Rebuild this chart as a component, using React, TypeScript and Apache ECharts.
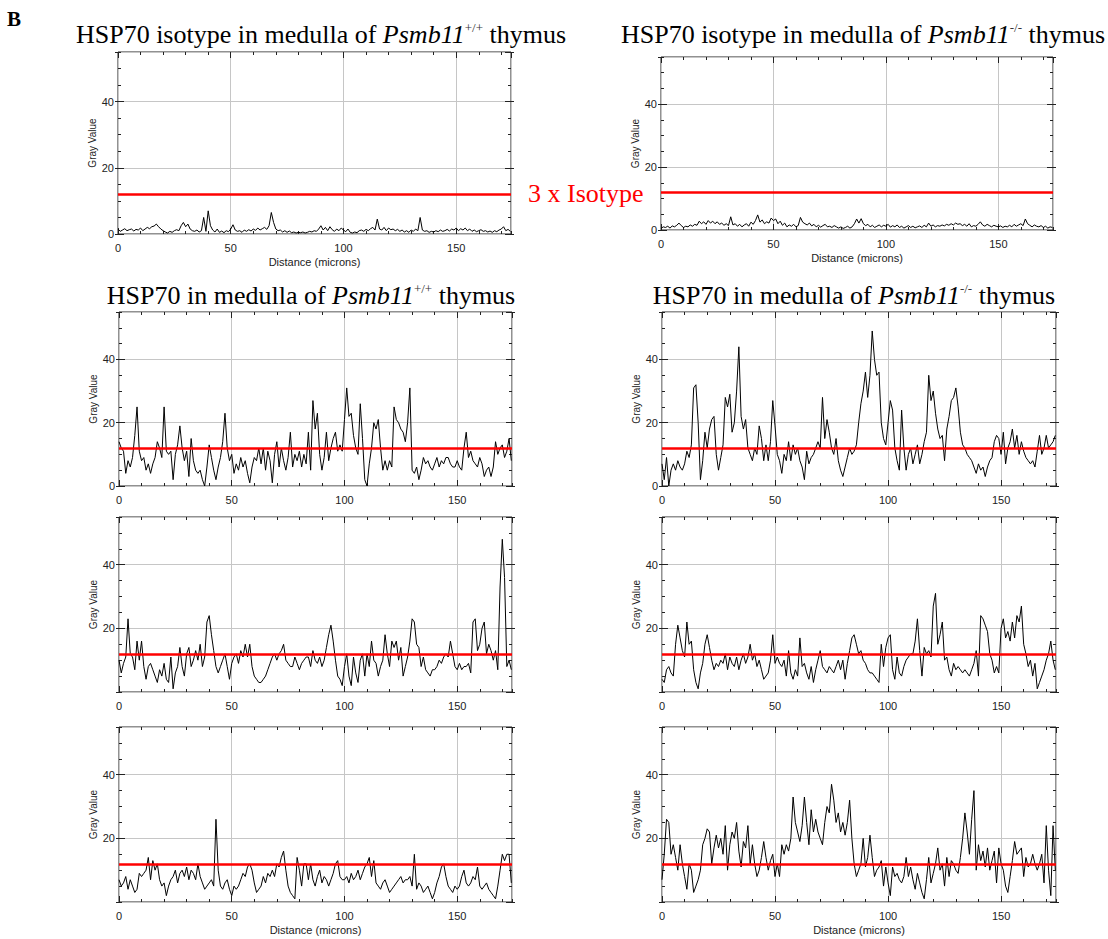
import React, { useEffect, useRef } from "react";
import * as echarts from "echarts";

// ---------------- data ----------------
const X_MAX = 174.3;
const Y_MAX = 55;
const ISOTYPE_THRESHOLD = 12; // 3 x isotype level

// distance along the profile (microns), one sample per micron
const DISTANCE = Array.from({ length: 175 }, (_, i) => i);

const WT_ISOTYPE = [
  1.5, 0.8, 1.2, 1.6, 1.0, 1.3, 1.5, 0.9, 1.4, 1.2, 1.8, 1.0, 1.5, 2.0, 1.6, 2.2, 2.4, 3.0, 2.2, 1.5,
  1.0, 0.6, 0.3, 0.8, 0.5, 1.0, 1.3, 1.0, 2.5, 3.5, 2.2, 3.0, 1.5, 1.0, 0.8, 1.2, 0.6, 1.0, 5.0, 0.8,
  7.0, 2.5, 1.2, 0.6, 1.5, 0.5, 0.9, 0.4, 1.0, 0.7, 1.5, 2.8, 1.2, 0.8, 1.0, 0.5, 1.2, 0.8, 1.3, 0.9,
  1.5, 1.1, 1.8, 1.2, 1.6, 2.0, 1.4, 2.5, 6.5, 3.5, 1.5, 1.0, 1.2, 0.6, 1.0, 0.5, 0.9, 0.4, 0.6, 0.3,
  0.5, 0.4, 0.6, 0.3, 0.5, 0.8, 0.6, 1.0, 0.8, 1.5, 2.5, 1.2, 2.0, 1.0, 2.2, 1.3, 0.8, 1.5, 1.0, 1.8,
  1.2, 0.7, 1.5, 0.5, 0.3, 0.6, 0.4, 1.0, 1.2, 0.8, 1.4, 1.0, 1.6, 2.0, 1.2, 4.5, 1.5, 1.2, 2.0, 1.0,
  1.8, 1.3, 1.5, 1.0, 1.4, 0.8, 1.2, 0.6, 1.0, 0.5, 1.2, 0.8, 1.5, 1.0, 5.0, 1.2, 0.8, 1.0, 0.5, 0.8,
  0.6, 1.0, 0.7, 1.2, 0.8, 1.0, 1.4, 0.9, 1.5, 1.2, 1.8, 1.0, 1.6, 1.2, 1.8, 1.0, 1.5, 0.8, 1.2, 0.7,
  1.0, 1.3, 0.8, 1.0, 0.6, 0.9, 0.5, 1.0, 0.7, 1.2, 1.5, 2.2, 1.0, 1.4, 0.8,
];

const KO_ISOTYPE = [
  0.5, 1.0, 0.8, 1.2, 0.6, 1.3, 1.0, 1.5, 2.2, 1.4, 0.8, 1.2, 1.0, 1.6, 1.2, 1.8, 1.5, 2.8, 2.0, 2.6,
  1.8, 3.0, 2.2, 2.8, 2.0, 2.6, 1.8, 2.2, 1.5, 2.0, 1.4, 4.2, 1.6, 2.0, 1.2, 1.8, 1.0, 1.6, 2.0, 1.2,
  2.5, 1.8, 3.0, 4.8, 2.5, 3.2, 2.0, 2.6, 2.2, 3.8, 3.0, 3.5, 2.0, 2.8, 1.5, 2.2, 1.0, 1.6, 1.2, 1.8,
  1.0, 1.4, 4.0, 2.5, 2.0, 1.6, 2.2, 1.3, 1.8, 1.0, 1.5, 0.9, 1.4, 1.8, 1.0, 1.2, 0.8, 1.4, 1.0, 0.6,
  1.0, 0.5, 0.8, 1.2, 0.6, 1.0, 2.0, 3.5, 2.2, 3.6, 2.0, 1.4, 1.8, 1.0, 1.5, 0.8, 1.2, 1.6, 1.0, 1.5,
  1.2, 1.8, 0.9, 1.4, 1.0, 1.6, 0.8, 1.2, 0.6, 1.0, 1.4, 0.8, 1.2, 0.7, 1.0, 1.3, 0.8, 1.5, 1.0, 2.2,
  1.2, 1.6, 1.0, 1.4, 1.2, 1.6, 1.3, 1.8, 1.5, 2.0, 1.6, 2.2, 1.8, 2.0, 1.4, 1.8, 1.2, 2.0, 1.0, 1.4,
  1.2, 1.8, 2.6, 1.6, 1.2, 1.8, 1.4, 1.0, 1.5, 1.2, 1.0, 1.3, 0.8, 1.2, 1.0, 1.5, 1.0, 1.8, 1.2, 1.6,
  2.0, 1.4, 3.5, 2.0, 1.5, 1.0, 1.6, 1.2, 1.0, 1.4, 0.8, 1.2, 0.6, 1.0, 0.8,
];

const WT_HSP70_A = [
  14, 12, 11, 4, 8, 6, 9, 16, 25, 11, 8, 9, 5, 7, 4, 7, 9, 14, 12, 9,
  25, 11, 10, 11, 2, 10, 13, 19, 12, 8, 11, 3, 15, 8, 5, 4, 5, 2, 0, 6,
  13, 9, 5, 2, 6, 9, 14, 23, 12, 8, 10, 4, 7, 5, 9, 6, 8, 4, 1, 6,
  9, 8, 12, 7, 12, 5, 11, 8, 1, 10, 14, 6, 12, 8, 5, 9, 17, 6, 10, 8,
  11, 6, 10, 7, 17, 5, 27, 18, 23, 10, 5, 9, 17, 8, 12, 15, 17, 11, 13, 11,
  21, 31, 22, 23, 16, 12, 10, 26, 15, 2, 0, 7, 12, 20, 18, 21, 12, 5, 8, 5,
  8, 6, 25, 21, 20, 18, 17, 14, 20, 31, 5, 4, 6, 2, 5, 9, 7, 8, 6, 5,
  7, 9, 6, 8, 7, 9, 9, 7, 6, 6, 8, 6, 5, 12, 17, 9, 11, 8, 7, 6,
  9, 7, 3, 5, 6, 3, 6, 14, 10, 12, 13, 9, 11, 15, 8,
];

const KO_HSP70_A = [
  7, 2, 9, 0, 5, 7, 5, 8, 6, 5, 7, 11, 9, 13, 31, 32, 20, 2, 8, 17,
  12, 18, 21, 22, 10, 5, 9, 13, 28, 25, 29, 17, 20, 30, 44, 22, 18, 21, 12, 10,
  8, 12, 10, 19, 15, 8, 13, 8, 14, 27, 19, 10, 8, 4, 10, 8, 14, 8, 13, 10,
  12, 8, 6, 2, 11, 7, 9, 10, 12, 14, 12, 28, 15, 21, 17, 12, 10, 15, 8, 5,
  3, 6, 9, 12, 10, 11, 13, 20, 26, 30, 36, 28, 35, 49, 40, 35, 36, 20, 15, 13,
  20, 27, 24, 12, 8, 5, 24, 12, 5, 10, 12, 7, 10, 13, 7, 10, 14, 17, 35, 27,
  30, 23, 18, 15, 16, 8, 18, 22, 27, 28, 31, 25, 17, 13, 12, 10, 9, 8, 6, 4,
  7, 5, 6, 3, 6, 8, 9, 14, 16, 15, 10, 17, 7, 12, 14, 18, 12, 16, 10, 14,
  11, 9, 8, 7, 8, 6, 11, 16, 10, 12, 16, 12, 13, 14, 16,
];

const WT_HSP70_B = [
  10, 6, 9, 11, 23, 12, 11, 7, 16, 10, 16, 8, 4, 8, 9, 7, 5, 3, 7, 5,
  9, 4, 3, 11, 1, 6, 8, 14, 8, 5, 12, 14, 8, 10, 13, 10, 15, 8, 11, 22,
  24, 18, 13, 8, 6, 8, 10, 12, 8, 4, 9, 11, 12, 9, 13, 11, 15, 11, 15, 8,
  5, 4, 3, 3, 4, 5, 7, 9, 11, 12, 10, 12, 13, 15, 10, 9, 8, 8, 11, 9,
  7, 9, 10, 11, 11, 8, 13, 10, 9, 11, 8, 10, 14, 18, 21, 16, 10, 5, 4, 2,
  8, 12, 5, 2, 11, 6, 3, 10, 12, 5, 12, 8, 16, 10, 9, 5, 8, 10, 18, 12,
  8, 16, 14, 16, 10, 14, 5, 8, 11, 16, 23, 22, 15, 14, 8, 11, 7, 6, 5, 7,
  7, 8, 10, 9, 11, 12, 11, 16, 12, 8, 7, 9, 7, 8, 8, 9, 6, 22, 23, 13,
  15, 20, 22, 12, 15, 13, 10, 13, 7, 33, 48, 36, 8, 10, 7,
];

const KO_HSP70_B = [
  4, 3, 7, 8, 6, 5, 15, 21, 17, 13, 11, 22, 15, 16, 7, 3, 1, 6, 9, 15,
  18, 14, 10, 7, 9, 8, 10, 9, 12, 7, 11, 9, 8, 11, 7, 10, 12, 9, 11, 15,
  10, 12, 8, 10, 7, 4, 5, 6, 10, 18, 9, 11, 9, 8, 10, 5, 13, 6, 4, 7,
  5, 17, 8, 9, 6, 4, 8, 3, 7, 10, 13, 8, 7, 6, 8, 7, 6, 8, 10, 7,
  10, 4, 9, 13, 17, 18, 15, 12, 13, 10, 9, 7, 6, 6, 5, 4, 3, 15, 8, 14,
  17, 18, 7, 4, 11, 6, 5, 8, 10, 11, 12, 12, 16, 23, 13, 5, 14, 12, 13, 11,
  27, 31, 15, 18, 22, 10, 11, 7, 5, 9, 7, 8, 7, 6, 7, 6, 5, 7, 9, 13,
  5, 24, 23, 21, 19, 12, 10, 6, 8, 6, 20, 23, 17, 19, 16, 22, 17, 24, 22, 27,
  15, 12, 8, 10, 5, 9, 1, 3, 5, 7, 10, 12, 16, 10, 7,
];

const WT_HSP70_C = [
  7, 5, 6, 8, 4, 7, 5, 3, 4, 9, 8, 9, 10, 14, 7, 13, 10, 12, 7, 5,
  6, 2, 5, 7, 8, 10, 6, 9, 10, 8, 11, 7, 10, 9, 7, 12, 8, 6, 4, 5,
  6, 7, 5, 26, 10, 5, 4, 6, 7, 4, 2, 5, 4, 5, 7, 9, 8, 11, 12, 10,
  6, 3, 4, 5, 8, 6, 9, 8, 10, 8, 12, 11, 14, 16, 10, 5, 3, 2, 1, 14,
  10, 5, 12, 12, 7, 12, 7, 5, 8, 10, 6, 8, 7, 5, 7, 9, 12, 13, 8, 7,
  7, 8, 6, 9, 7, 8, 10, 7, 9, 11, 12, 14, 8, 13, 6, 5, 4, 6, 7, 5,
  3, 4, 5, 6, 7, 8, 6, 7, 7, 8, 5, 15, 4, 6, 5, 3, 4, 5, 3, 1,
  3, 6, 8, 11, 12, 8, 5, 4, 3, 5, 4, 5, 8, 10, 6, 5, 6, 8, 7, 11,
  5, 4, 5, 6, 4, 3, 2, 1, 5, 10, 15, 13, 15, 15, 6,
];

const KO_HSP70_C = [
  7, 15, 26, 25, 15, 18, 14, 10, 18, 12, 8, 4, 12, 10, 3, 5, 7, 10, 18, 20,
  23, 22, 12, 17, 21, 17, 20, 15, 24, 10, 18, 22, 20, 25, 16, 11, 19, 17, 24, 12,
  18, 12, 8, 10, 14, 19, 14, 10, 13, 15, 8, 12, 8, 18, 15, 18, 16, 20, 33, 25,
  22, 19, 24, 33, 25, 18, 29, 22, 26, 22, 20, 18, 25, 30, 28, 37, 32, 25, 28, 22,
  25, 21, 25, 32, 20, 12, 8, 10, 12, 20, 11, 14, 21, 14, 8, 10, 11, 13, 5, 11,
  6, 2, 11, 8, 9, 7, 6, 8, 14, 8, 11, 7, 4, 9, 6, 3, 1, 7, 14, 6,
  9, 12, 17, 10, 12, 5, 14, 8, 13, 12, 10, 9, 14, 20, 28, 22, 15, 26, 35, 10,
  18, 13, 16, 11, 17, 10, 13, 16, 6, 17, 12, 10, 5, 3, 8, 13, 19, 15, 16, 17,
  8, 14, 11, 12, 15, 12, 10, 12, 15, 6, 24, 10, 2, 24, 10,
];

// ---------------- layout ----------------
type Panel = {
  values: number[];
  left: number;
  top: number;
  width: number;
  height: number;
  showZero: boolean;
  showXName: boolean;
};

const PANELS: Panel[] = [
  { values: WT_ISOTYPE, left: 118, top: 52, width: 393, height: 182, showZero: true, showXName: true },
  { values: KO_ISOTYPE, left: 661, top: 57, width: 392, height: 173, showZero: true, showXName: true },
  { values: WT_HSP70_A, left: 119, top: 312, width: 393, height: 174, showZero: true, showXName: false },
  { values: KO_HSP70_A, left: 662, top: 312, width: 394, height: 174, showZero: true, showXName: false },
  { values: WT_HSP70_B, left: 119, top: 517, width: 393, height: 175, showZero: false, showXName: false },
  { values: KO_HSP70_B, left: 662, top: 517, width: 394, height: 175, showZero: false, showXName: false },
  { values: WT_HSP70_C, left: 119, top: 727, width: 393, height: 175, showZero: false, showXName: true },
  { values: KO_HSP70_C, left: 662, top: 727, width: 394, height: 175, showZero: false, showXName: true },
];

const SERIF = '"Liberation Serif", "Times New Roman", serif';
const SANS = '"Liberation Sans", Arial, sans-serif';

function titleText(prefix: string, genotype: string) {
  return `{a|${prefix}}{i|Psmb11}{s|${genotype}}{a| thymus}`;
}

const TITLE_RICH = {
  a: { fontFamily: SERIF, fontSize: 26, fill: "#000" },
  i: { fontFamily: SERIF, fontSize: 26, fontStyle: "italic", fontWeight: "normal", fill: "#000" },
  s: { fontFamily: SERIF, fontSize: 13, fill: "#333", verticalAlign: "top" },
};

function buildOption() {
  const grid: any[] = [];
  const xAxis: any[] = [];
  const yAxis: any[] = [];
  const series: any[] = [];
  const tickColor = "#222";

  PANELS.forEach((p, gi) => {
    grid.push({
      left: p.left,
      top: p.top,
      width: p.width,
      height: p.height,
      show: true,
      borderColor: "#222",
      borderWidth: 1,
      backgroundColor: "transparent",
      containLabel: false,
      outerBoundsMode: "none",
    });

    const xBase = {
      type: "value",
      gridIndex: gi,
      min: 0,
      max: X_MAX,
      axisLine: { show: false, onZero: false },
      splitLine: { show: false },
      axisLabel: { show: false },
    };
    const xMain = xAxis.length;
    xAxis.push({
      ...xBase,
      position: "bottom",
      interval: 50,
      splitLine: { show: true, lineStyle: { color: "#c6c6c6", width: 1 } },
      axisTick: { show: true, inside: true, length: 6, lineStyle: { color: tickColor } },
      axisLabel: {
        show: true,
        showMaxLabel: false,
        margin: 8,
        fontSize: 11,
        fontFamily: SANS,
        color: "#222",
      },
      name: p.showXName ? "Distance (microns)" : "",
      nameLocation: "middle",
      nameGap: 22,
      nameTextStyle: { fontSize: 11, fontFamily: SANS, color: "#222" },
    });
    xAxis.push({
      ...xBase,
      position: "bottom",
      interval: 10,
      axisTick: { show: true, inside: true, length: 3, lineStyle: { color: tickColor } },
    });
    xAxis.push({
      ...xBase,
      position: "top",
      interval: 50,
      axisTick: { show: true, inside: true, length: 6, lineStyle: { color: tickColor } },
    });
    xAxis.push({
      ...xBase,
      position: "top",
      interval: 10,
      axisTick: { show: true, inside: true, length: 3, lineStyle: { color: tickColor } },
    });

    const yBase = {
      type: "value",
      gridIndex: gi,
      min: 0,
      max: Y_MAX,
      axisLine: { show: false, onZero: false },
      splitLine: { show: false },
      axisLabel: { show: false },
    };
    const yMain = yAxis.length;
    yAxis.push({
      ...yBase,
      position: "left",
      interval: 20,
      splitLine: { show: true, lineStyle: { color: "#c6c6c6", width: 1 } },
      axisTick: { show: true, inside: true, length: 6, lineStyle: { color: tickColor } },
      axisLabel: {
        show: true,
        showMaxLabel: false,
        showMinLabel: p.showZero,
        margin: 4,
        fontSize: 11,
        fontFamily: SANS,
        color: "#222",
      },
      name: "Gray Value",
      nameLocation: "middle",
      nameRotate: 90,
      nameGap: 21,
      nameTextStyle: { fontSize: 10, fontFamily: SANS, color: "#222" },
    });
    // short outward ticks at the labelled values
    yAxis.push({
      ...yBase,
      position: "left",
      interval: 20,
      axisTick: { show: true, inside: false, length: 3, lineStyle: { color: tickColor } },
    });
    yAxis.push({
      ...yBase,
      position: "left",
      interval: 5,
      axisTick: { show: true, inside: true, length: 3, lineStyle: { color: tickColor } },
    });
    yAxis.push({
      ...yBase,
      position: "right",
      interval: 20,
      axisTick: { show: true, inside: true, length: 6, lineStyle: { color: tickColor } },
    });
    yAxis.push({
      ...yBase,
      position: "right",
      interval: 20,
      axisTick: { show: true, inside: false, length: 3, lineStyle: { color: tickColor } },
    });
    yAxis.push({
      ...yBase,
      position: "right",
      interval: 5,
      axisTick: { show: true, inside: true, length: 3, lineStyle: { color: tickColor } },
    });

    series.push({
      type: "line",
      xAxisIndex: xMain,
      yAxisIndex: yMain,
      data: DISTANCE.map((d, i) => [d, p.values[i]]),
      showSymbol: false,
      symbol: "none",
      lineStyle: { color: "#000", width: 1 },
      silent: true,
      markLine: {
        silent: true,
        symbol: ["none", "none"],
        label: { show: false },
        lineStyle: { color: "#ff0000", width: 2.5, type: "solid" },
        data: [{ yAxis: ISOTYPE_THRESHOLD }],
        z: 5,
      },
      z: 3,
    });
  });

  const graphic: any[] = [
    {
      type: "text",
      x: 7,
      y: 19,
      style: { text: "B", fontFamily: SERIF, fontSize: 21, fontWeight: "bold", fill: "#000", verticalAlign: "middle" },
    },
    {
      type: "text",
      x: 321,
      y: 34,
      style: { text: titleText("HSP70 isotype in medulla of ", "+/+"), rich: TITLE_RICH, align: "center", verticalAlign: "middle" },
    },
    {
      type: "text",
      x: 863,
      y: 34,
      style: { text: titleText("HSP70 isotype in medulla of ", "-/-"), rich: TITLE_RICH, align: "center", verticalAlign: "middle" },
    },
    {
      type: "text",
      x: 311,
      y: 295,
      style: { text: titleText("HSP70 in medulla of ", "+/+"), rich: TITLE_RICH, align: "center", verticalAlign: "middle" },
    },
    {
      type: "text",
      x: 854,
      y: 295,
      style: { text: titleText("HSP70 in medulla of ", "-/-"), rich: TITLE_RICH, align: "center", verticalAlign: "middle" },
    },
    {
      type: "text",
      x: 528,
      y: 193,
      style: { text: "3 x Isotype", fontFamily: SERIF, fontSize: 26, fill: "#ff0000", verticalAlign: "middle" },
    },
  ];

  return {
    animation: false,
    backgroundColor: "#ffffff",
    grid,
    xAxis,
    yAxis,
    series,
    graphic,
  };
}

export default function App() {
  const ref = useRef<HTMLDivElement>(null);
  useEffect(() => {
    if (!ref.current) return;
    const chart = echarts.init(ref.current, undefined, { renderer: "svg" });
    chart.setOption(buildOption() as any);
    return () => chart.dispose();
  }, []);
  return (
    <div
      ref={ref}
      style={{ position: "absolute", left: 0, top: 0, width: 1108, height: 939, background: "#fff" }}
    />
  );
}
